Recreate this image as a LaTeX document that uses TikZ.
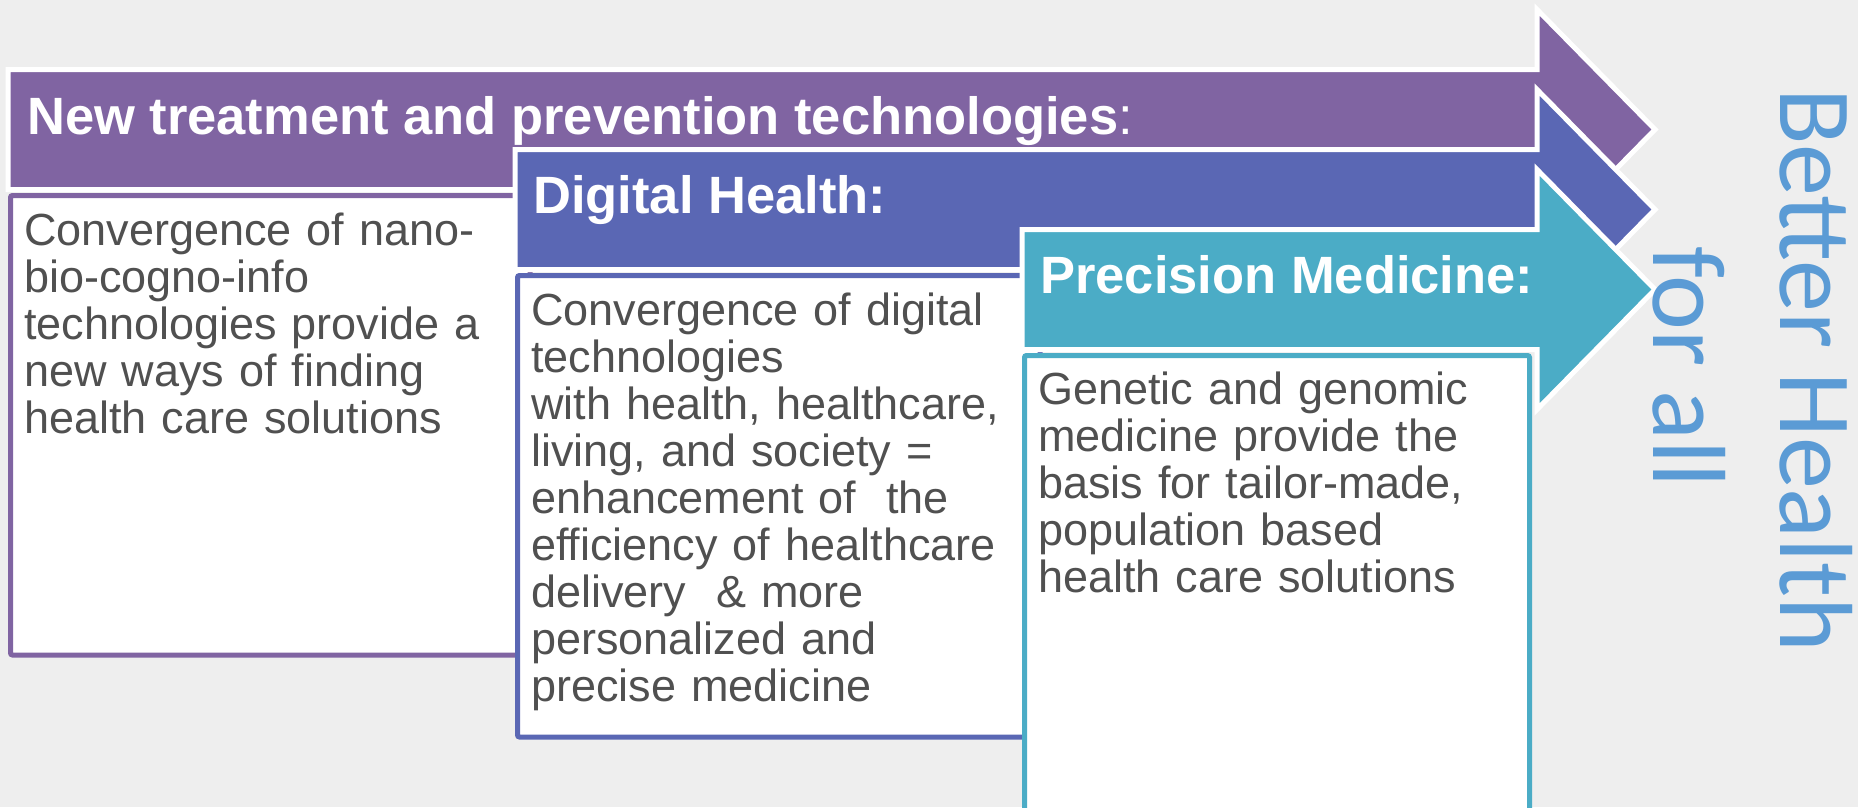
\documentclass[tikz,border=0pt]{standalone}
\usepackage{fontspec}
\setmainfont{Liberation Sans}
\newfontfamily\sloganfont{Carlito}
\usetikzlibrary{positioning}
\definecolor{bgray}{HTML}{EEEEEE}
\definecolor{colPrev}{HTML}{8064A2}
\definecolor{colDig}{HTML}{5A67B4}
\definecolor{colPrec}{HTML}{4BACC6}
\definecolor{txtgray}{HTML}{505050}
\definecolor{slogblue}{HTML}{5B9BD5}
\tikzset{
    %Define style for the arrow bands
    band/.style={
      fill=#1,
      draw=white, line width=5pt,
      line join=miter},
    %Define style for the white panels
    panel/.style={
      fill=white,
      draw=#1, line width=5pt,
      rounded corners=2pt},
    % Define text styles
    heading/.style={
      anchor=base west,
      inner sep=0pt,
      text=white,
      font=\fontsize{52.5}{60}\selectfont\bfseries},
    body/.style={
      anchor=base west,
      inner sep=0pt,
      text=txtgray,
      text width=490pt,
      align=left,
      font=\fontsize{45}{47}\selectfont},
    slogan/.style={
      anchor=base,
      inner sep=0pt,
      rotate=-90,
      text=slogblue,
      font=\sloganfont\fontsize{104}{128}\selectfont}
}

\begin{document}
\begin{tikzpicture}[x=1pt, y=-1pt]
    \fill[bgray] (0,0) rectangle (1858,807);
    \useasboundingbox (0,0) rectangle (1858,807);

    % first band: treatment and prevention
    \draw[band=colPrev] (8,69.5) -- (1537,69.5) -- (1537,9.5) -- (1655,129.5)
      -- (1537,249.5) -- (1537,189.5) -- (8,189.5) -- cycle;
    \node[heading] (prevtitle) at (27,134)
      {New treatment and prevention technologies\mdseries:};
    \draw[panel=colPrev] (10.5,195.5) rectangle (530,655);
    \node[body] (prevtext) at (24,245)
      {Convergence of nano-\\bio-cogno-info\\technologies provide a\\new ways of finding\\health care solutions};

    % second band: digital health
    \draw[band=colDig] (515,149.5) -- (1537,149.5) -- (1537,89.5) -- (1655,209.5)
      -- (1537,329.5) -- (1537,269.5) -- (515,269.5) -- cycle;
    \node[heading] (digtitle) at (533,213) {Digital Health:};
    \draw[panel=colDig] (517.5,275.5) rectangle (1040,737);
    \node[body] (digtext) at (531,325)
      {Convergence of digital\\technologies\\with health, healthcare,\\living, and society =\\enhancement of~ the\\efficiency of healthcare\\delivery~ \& more\\personalized and\\precise medicine};

    % third band: precision medicine
    \draw[band=colPrec] (1022,229.5) -- (1537,229.5) -- (1537,169.5) -- (1655,289.5)
      -- (1537,409.5) -- (1537,349.5) -- (1022,349.5) -- cycle;
    \node[heading] (prectitle) at (1040,293) {Precision Medicine:};
    \draw[panel=colPrec] (1024.5,355.5) rectangle (1529.5,830);
    \node[body] (prectext) at (1038,404)
      {Genetic and genomic\\medicine provide the\\basis for tailor-made,\\population based\\health care solutions};

    % slogan on the right
    \node[slogan] (better) at (1780,370) {Better Health};
    \node[slogan] (forall) at (1653,367) {for all};
\end{tikzpicture}
\end{document}
